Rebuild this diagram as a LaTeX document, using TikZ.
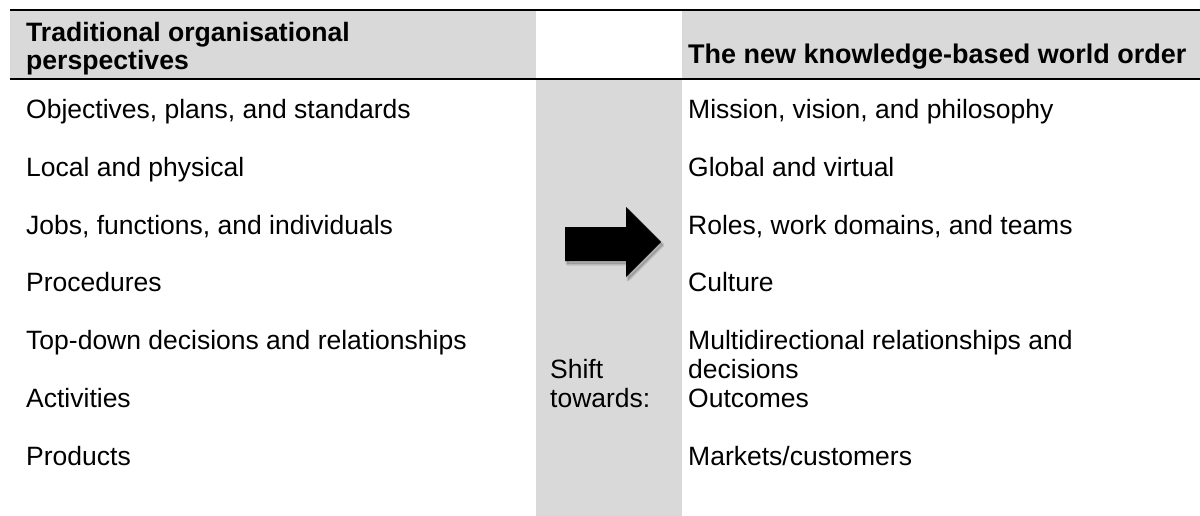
\documentclass[tikz,border=0pt]{standalone}
\usepackage{fontspec}
\setmainfont{Liberation Sans}
\definecolor{cellgray}{RGB}{217,217,217}
\begin{document}
\begin{tikzpicture}[x=1pt,y=-1pt,
  body/.style={anchor=base west, inner sep=0pt, font=\fontsize{26.5}{28}\selectfont},
  headl/.style={anchor=base west, inner sep=0pt, font=\fontsize{26.6}{28}\selectfont\bfseries},
  headr/.style={anchor=base west, inner sep=0pt, font=\fontsize{27}{28}\selectfont\bfseries},
  rule/.style={line width=2pt, black},
  bigarrow/.style={fill=black},
  arrowshadow/.style={fill=black, opacity=0.18, draw=black, draw opacity=0.12, line width=3pt, line join=round}]
\useasboundingbox (0,0) rectangle (1200,516);
% cell shading
\fill[cellgray] (10,10) rectangle (536,79);
\fill[cellgray] (682,10) rectangle (1200,79);
\fill[cellgray] (536,79) rectangle (682,516);
% rules
\draw[rule] (10,10) -- (1200,10);
\draw[rule] (10,79) -- (1200,79);
% header texts
\node[headl] (h1a) at (26,42) {Traditional organisational};
\node[headl] (h1b) at (26,70) {perspectives};
\node[headr] (h3) at (688,64) {The new knowledge-based world order};
% left column
\node[body] (l1) at (26,118.5) {Objectives, plans, and standards};
\node[body] (l2) at (26,176.3) {Local and physical};
\node[body] (l3) at (26,234.1) {Jobs, functions, and individuals};
\node[body] (l4) at (26,291.9) {Procedures};
\node[body] (l5) at (26,349.5) {Top-down decisions and relationships};
\node[body] (l6) at (26,407.3) {Activities};
\node[body] (l7) at (26,465.3) {Products};
% middle column
\node[body] (m1) at (550,378.5) {Shift};
\node[body] (m2) at (550,407.3) {towards:};
% right column
\node[body] (r1) at (688,118.5) {Mission, vision, and philosophy};
\node[body] (r2) at (688,176.3) {Global and virtual};
\node[body] (r3) at (688,234.1) {Roles, work domains, and teams};
\node[body] (r4) at (688,291.9) {Culture};
\node[body] (r5a) at (688,349.5) {Multidirectional relationships and};
\node[body] (r5b) at (688,378.5) {decisions};
\node[body] (r6) at (688,407.3) {Outcomes};
\node[body] (r7) at (688,465.3) {Markets/customers};
% arrow with soft shadow
\path[arrowshadow] (567,230) -- (628,230) -- (628,210) -- (663,245) -- (628,280) -- (628,264) -- (567,264) -- cycle;
\path[bigarrow] (565,227) -- (626,227) -- (626,207) -- (661,242) -- (626,277) -- (626,261) -- (565,261) -- cycle;
\end{tikzpicture}
\end{document}
